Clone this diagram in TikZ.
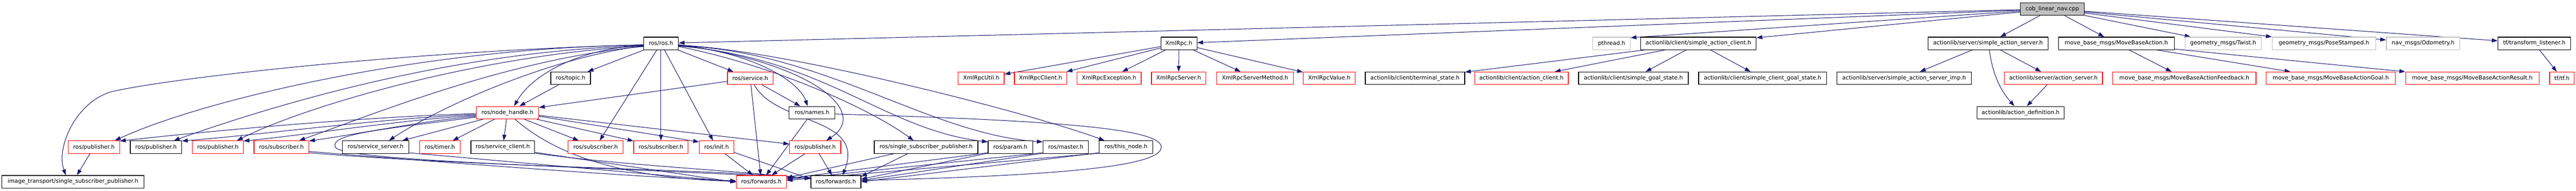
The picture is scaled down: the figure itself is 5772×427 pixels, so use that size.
\documentclass[tikz,border=0pt]{standalone}
\usepackage{fontspec}
\setmainfont{DejaVu Sans}
\usetikzlibrary{arrows.meta,calc}
\definecolor{edgec}{HTML}{191970}
\definecolor{redc}{HTML}{FF0000}
\definecolor{greyc}{HTML}{BFBFBF}
\pgfdeclarelayer{bg}
\pgfsetlayers{bg,main}
\begin{document}
\begin{tikzpicture}[x=1pt,y=-1pt,
 blk/.style={draw=black,line width=1.4pt,fill=white,inner sep=0pt,minimum height=28pt,font=\fontsize{12.6}{15}\selectfont},
 redb/.style={blk,draw=redc},
 greyb/.style={blk,draw=greyc},
 rootb/.style={blk,fill=greyc},
 conn/.style={draw=edgec,line width=1.2pt,-{Triangle[length=13pt,width=9pt]}}]
\useasboundingbox (0,0) rectangle (5772,427);
% row 0
\node[rootb,minimum width=143] (cob) at (4598.5,20) {cob\_linear\_nav.cpp};
% row 1
\node[blk,minimum width=78] (ros) at (1481,97) {ros/ros.h};
\node[blk,minimum width=81] (xmlrpc) at (2641.5,97) {XmlRpc.h};
\node[greyb,minimum width=84] (pthread) at (3611,97) {pthread.h};
\node[blk,minimum width=259] (sac) at (3805.5,97) {actionlib/client/simple\_action\_client.h};
\node[blk,minimum width=269] (sas) at (4454.5,97) {actionlib/server/simple\_action\_server.h};
\node[blk,minimum width=260] (mba) at (4742,97) {move\_base\_msgs/MoveBaseAction.h};
\node[greyb,minimum width=171] (twist) at (4981.5,97) {geometry\_msgs/Twist.h};
\node[greyb,minimum width=232] (pose) at (5207,97) {geometry\_msgs/PoseStamped.h};
\node[greyb,minimum width=165] (odom) at (5429.5,97) {nav\_msgs/Odometry.h};
\node[blk,minimum width=163] (tfl) at (5678.5,97) {tf/transform\_listener.h};
% row 2
\node[blk,minimum width=89] (topic) at (1278.5,175) {ros/topic.h};
\node[redb,minimum width=102] (service) at (1681,175) {ros/service.h};
\node[redb,minimum width=103] (xutil) at (2198.5,175) {XmlRpcUtil.h};
\node[redb,minimum width=117] (xclient) at (2331.5,175) {XmlRpcClient.h};
\node[redb,minimum width=144] (xexc) at (2485,175) {XmlRpcException.h};
\node[redb,minimum width=122] (xserver) at (2641,175) {XmlRpcServer.h};
\node[redb,minimum width=172] (xsm) at (2812,175) {XmlRpcServerMethod.h};
\node[redb,minimum width=117] (xvalue) at (2978.5,175) {XmlRpcValue.h};
\node[blk,minimum width=223] (term) at (3170.5,175) {actionlib/client/terminal\_state.h};
\node[redb,minimum width=210] (aclient) at (3409,175) {actionlib/client/action\_client.h};
\node[blk,minimum width=246] (sgs) at (3660,175) {actionlib/client/simple\_goal\_state.h};
\node[blk,minimum width=287] (scgs) at (3949.5,175) {actionlib/client/simple\_client\_goal\_state.h};
\node[blk,minimum width=301] (sasimp) at (4266.5,175) {actionlib/server/simple\_action\_server\_imp.h};
\node[redb,minimum width=220] (aserver) at (4601,175) {actionlib/server/action\_server.h};
\node[redb,minimum width=321] (fb) at (4894.5,175) {move\_base\_msgs/MoveBaseActionFeedback.h};
\node[redb,minimum width=289] (goal) at (5222.5,175) {move\_base\_msgs/MoveBaseActionGoal.h};
\node[redb,minimum width=299] (result) at (5539.5,175) {move\_base\_msgs/MoveBaseActionResult.h};
\node[redb,minimum width=55] (tf) at (5740.5,175) {tf/tf.h};
% row 3
\node[redb,minimum width=140] (nh) at (1137,252) {ros/node\_handle.h};
\node[blk,minimum width=103] (names) at (1819.5,252) {ros/names.h};
\node[blk,minimum width=195] (actdef) at (4527.5,252) {actionlib/action\_definition.h};
% row 4
\node[redb,minimum width=115] (pubA) at (210.5,329) {ros/publisher.h};
\node[blk,minimum width=115] (pubB) at (349.5,329) {ros/publisher.h};
\node[redb,minimum width=114] (pubC) at (488,329) {ros/publisher.h};
\node[redb,minimum width=123] (subA) at (630.5,329) {ros/subscriber.h};
\node[blk,minimum width=149] (sserv) at (841.5,329) {ros/service\_server.h};
\node[redb,minimum width=91] (timer) at (985.5,329) {ros/timer.h};
\node[blk,minimum width=143] (sclient) at (1126.5,329) {ros/service\_client.h};
\node[redb,minimum width=123] (subB) at (1334.5,329) {ros/subscriber.h};
\node[redb,minimum width=122] (subC) at (1481,329) {ros/subscriber.h};
\node[redb,minimum width=77] (init) at (1605.5,329) {ros/init.h};
\node[redb,minimum width=115] (pubD) at (1826.5,329) {ros/publisher.h};
\node[blk,minimum width=232] (rssp) at (2075,329) {ros/single\_subscriber\_publisher.h};
\node[blk,minimum width=100] (param) at (2264,329) {ros/param.h};
\node[blk,minimum width=102] (master) at (2388,329) {ros/master.h};
\node[blk,minimum width=120] (thisnode) at (2523,329) {ros/this\_node.h};
% row 5
\node[blk,minimum width=319] (itssp) at (163.5,406.5) {image\_transport/single\_subscriber\_publisher.h};
\node[redb,minimum width=112] (fwdR) at (1706,406.5) {ros/forwards.h};
\node[blk,minimum width=112] (fwdB) at (1873,406.5) {ros/forwards.h};

\begin{pgfonlayer}{bg}
% cob
\draw[conn] (cob) -- (ros);
\draw[conn] (cob) -- (xmlrpc);
\draw[conn] (cob) -- ($(pthread.north east)+(0,2)$);
\draw[conn] (cob) -- (sac);
\draw[conn] (cob) -- (sas);
\draw[conn] (cob) -- (mba);
\draw[conn] (cob) -- (twist);
\draw[conn] (cob) -- (pose);
\draw[conn] (cob) -- (odom);
\draw[conn] (cob) -- (tfl);
% xmlrpc
\draw[conn] (xmlrpc) -- (xutil);
\draw[conn] (xmlrpc) -- (xclient);
\draw[conn] (xmlrpc) -- (xexc);
\draw[conn] (xmlrpc) -- (xserver);
\draw[conn] (xmlrpc) -- (xsm);
\draw[conn] (xmlrpc) -- (xvalue);
% actionlib client
\draw[conn] (sac) -- (term);
\draw[conn] (sac) -- (aclient);
\draw[conn] (sac) -- (sgs);
\draw[conn] (sac) -- (scgs);
% actionlib server
\draw[conn] (sas) -- (sasimp);
\draw[conn] ($(sas.south)+(3,0)$) .. controls (4465,170) and (4485,205) .. ($(actdef.north)+(-14,0)$);
\draw[conn] (sas) -- (aserver);
\draw[conn] (aserver) -- (actdef);
% move base
\draw[conn] (mba) -- (fb);
\draw[conn] (mba) -- (goal);
\draw[conn] (mba) -- (result);
\draw[conn] (tfl) -- (tf);
% ros.h
\draw[conn] (ros) -- (topic);
\draw[conn] (ros) -- (service);
\draw[conn] (ros) -- (subB);
\draw[conn] (ros) -- (subC);
\draw[conn] (ros) -- (init);
\draw[conn] ($(ros.east)+(0,5)$) .. controls (1680,115) and (1790,180) .. ($(names.north)+(-10,0)$);
\draw[conn] ($(ros.east)+(0,3)$) .. controls (1820,140) and (1950,250) .. ($(pubD.north)+(25,0)$);
\draw[conn] ($(ros.east)+(0,7)$) .. controls (1750,150) and (1960,250) .. ($(rssp.north)+(-28,0)$);
\draw[conn] ($(ros.east)+(0,6)$) .. controls (1850,130) and (1980,290) .. ($(param.north west)+(0,3)$);
\draw[conn] ($(ros.east)+(0,5)$) .. controls (1850,115) and (2080,300) .. ($(master.north west)+(0,3)$);
\draw[conn] ($(ros.east)+(0,4)$) .. controls (1750,110) and (2300,250) .. ($(thisnode.north)+(-48,0)$);
\draw[conn] ($(ros.west)+(0,4)$) .. controls (1290,110) and (1190,170) .. ($(nh.north)+(15,0)$);
\draw[conn] ($(ros.west)+(0,6)$) .. controls (1250,125) and (1000,230) .. ($(sserv.north)+(30,0)$);
\draw[conn] ($(ros.west)+(0,7)$) .. controls (1150,130) and (850,250) .. ($(subA.north)+(40,0)$);
\draw[conn] ($(ros.west)+(0,6)$) .. controls (1100,120) and (700,230) .. ($(pubC.north)+(43,0)$);
\draw[conn] ($(ros.west)+(0,5)$) .. controls (1000,115) and (600,240) .. ($(pubB.north)+(40,0)$);
\draw[conn] ($(ros.west)+(0,4)$) .. controls (950,105) and (450,225) .. ($(pubA.north)+(47,0)$);
\draw[conn] ($(ros.west)+(0,3)$) .. controls (900,115) and (380,175) .. (250,205) .. controls (170,228) and (125,330) .. ($(itssp.north)+(-16,0)$);
% topic, service, names
\draw[conn] (topic) -- (nh);
\draw[conn] ($(service.west)+(0,7)$) -- ($(nh.north east)+(0,3)$);
\draw[conn] (service) -- (names);
\draw[conn] (service) -- (fwdR);
\draw[conn] ($(service.south)+(9,0)$) .. controls (1740,280) and (1940,260) .. ($(fwdB.north)+(15,0)$);
\draw[conn] (names) -- (fwdR);
\draw[conn] ($(names.east)+(0,3)$) .. controls (2400,270) and (2602,290) .. (2602,329) .. controls (2602,370) and (2400,392) .. ($(fwdB.east)+(0,-3)$);
% node_handle
\draw[conn] ($(nh.west)+(0,2)$) .. controls (800,262) and (450,295) .. ($(pubA.north east)+(0,1)$);
\draw[conn] ($(nh.west)+(0,4)$) .. controls (850,265) and (600,300) .. ($(pubB.north east)+(0,1)$);
\draw[conn] ($(nh.west)+(0,6)$) .. controls (900,268) and (700,300) .. ($(pubC.north east)+(0,1)$);
\draw[conn] ($(nh.west)+(0,8)$) .. controls (950,270) and (800,300) .. ($(subA.north east)+(0,1)$);
\draw[conn] ($(nh.south west)+(16,0)$) -- ($(sserv.north)+(60,0)$);
\draw[conn] (nh) -- (timer);
\draw[conn] (nh) -- (sclient);
\draw[conn] (nh) -- (subB);
\draw[conn] (nh) -- (subC);
\draw[conn] ($(nh.east)+(0,8)$) -- ($(init.north west)+(0,3)$);
\draw[conn] ($(nh.east)+(0,6)$) -- ($(pubD.west)+(0,-7)$);
\draw[conn] ($(nh.south)+(17,0)$) .. controls (1250,350) and (1400,398) .. ($(fwdR.west)+(0,-1)$);
\draw[conn] ($(nh.west)+(0,10)$) .. controls (850,290) and (735,300) .. (752,330) .. controls (775,360) and (1300,372) .. ($(fwdB.west)+(0,-8)$);
% row 4 to forwards
\draw[conn] (init) -- (fwdR);
\draw[conn] ($(init.south east)+(0,-3)$) -- ($(fwdB.west)+(0,-6)$);
\draw[conn] (pubD) -- (fwdR);
\draw[conn] (pubD) -- (fwdB);
\draw[conn] (pubA) -- (itssp);
\draw[conn] ($(subA.south east)+(0,-5)$) .. controls (900,356) and (1400,395) .. ($(fwdR.west)+(0,-2)$);
\draw[conn] ($(subA.south east)+(0,-2)$) .. controls (1100,375) and (1600,378) .. ($(fwdB.west)+(0,-7)$);
\draw[conn] ($(sserv.south east)+(0,-2)$) -- ($(fwdR.west)+(0,0)$);
\draw[conn] ($(sclient.south east)+(0,-3)$) -- ($(fwdR.west)+(0,1)$);
\draw[conn] ($(sclient.south east)+(0,-1)$) .. controls (1400,370) and (1600,378) .. ($(fwdB.west)+(0,-7)$);
\draw[conn] ($(rssp.south)+(-72,0)$) -- ($(fwdR.east)+(0,-9)$);
\draw[conn] ($(rssp.south)+(-41,0)$) -- ($(fwdB.north east)+(0,3)$);
\draw[conn] ($(param.south west)+(0,-2)$) -- ($(fwdR.east)+(0,-7)$);
\draw[conn] ($(param.south west)+(0,-1)$) -- ($(fwdB.east)+(0,-6)$);
\draw[conn] ($(master.south west)+(0,-2)$) -- ($(fwdR.east)+(0,-5)$);
\draw[conn] ($(master.south west)+(0,-1)$) -- ($(fwdB.east)+(0,-3)$);
\draw[conn] ($(thisnode.south west)+(0,-2)$) -- ($(fwdB.east)+(0,0)$);
\draw[conn] ($(thisnode.south west)+(0,-1)$) -- ($(fwdR.east)+(0,-3)$);
\end{pgfonlayer}
\end{tikzpicture}
\end{document}
